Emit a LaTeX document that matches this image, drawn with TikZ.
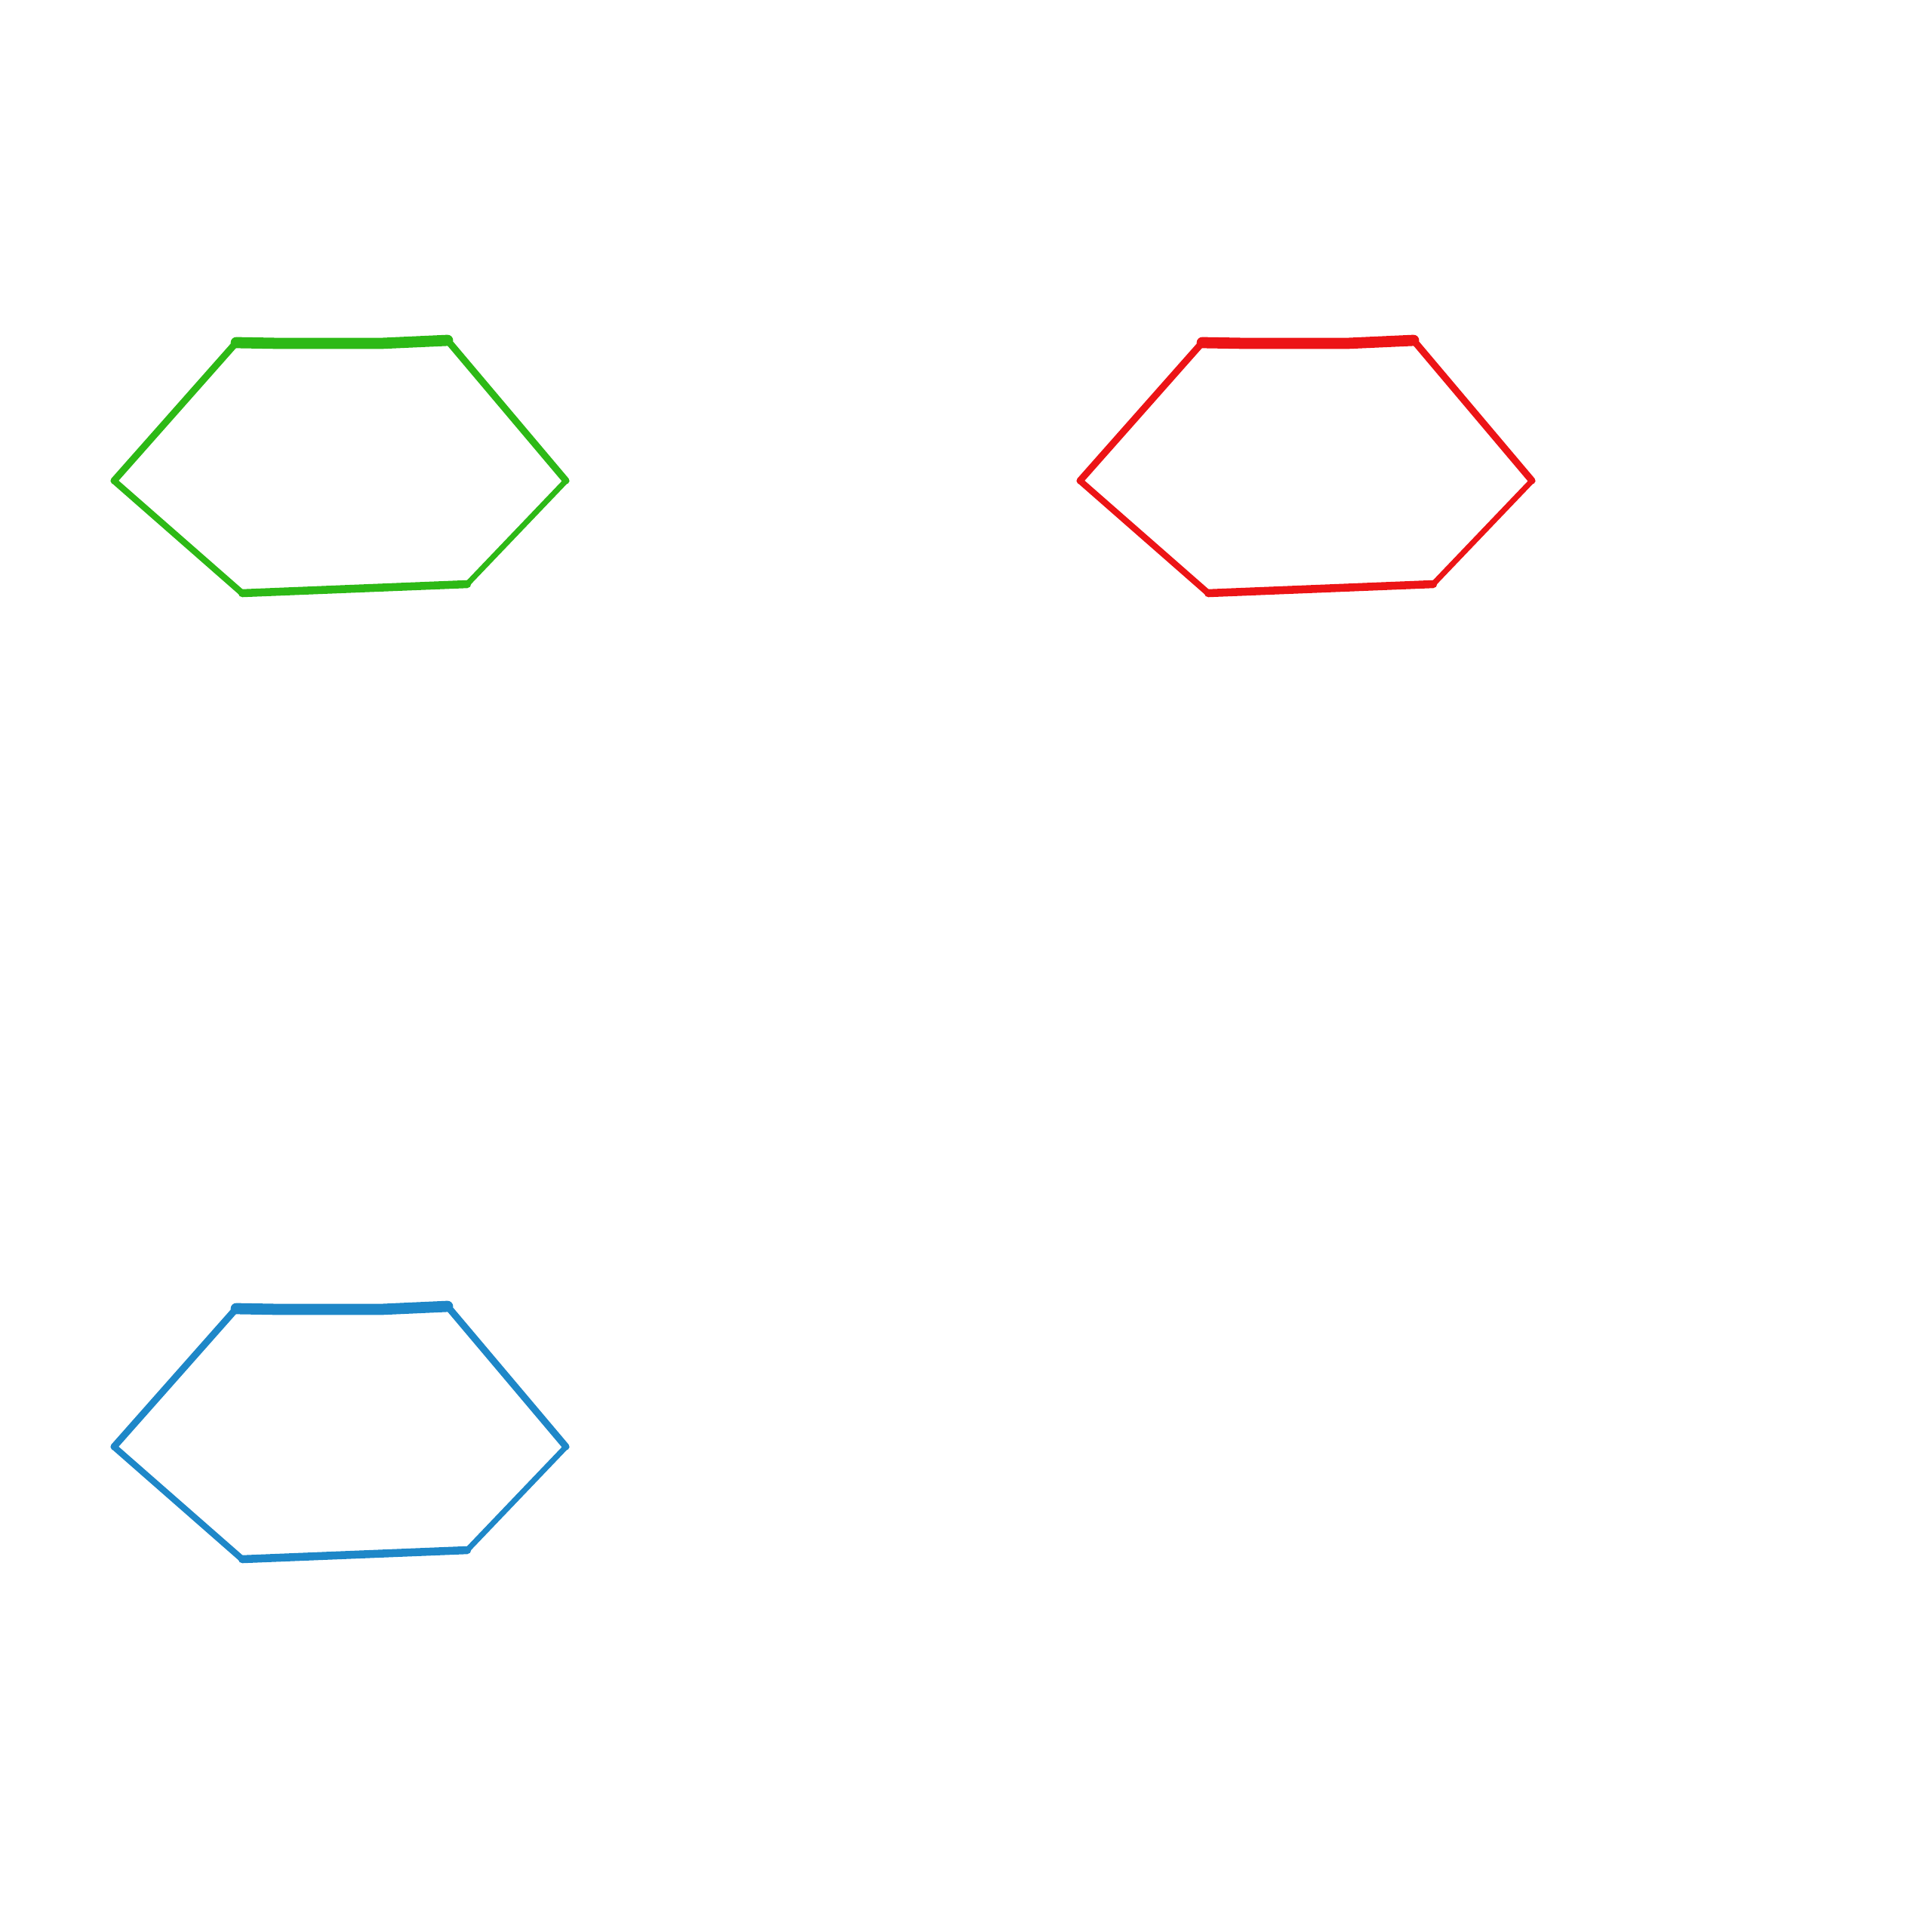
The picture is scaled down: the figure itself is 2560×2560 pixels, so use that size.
\documentclass[tikz,border=0pt]{standalone}
\usepackage{tikz}
\usetikzlibrary{calc}
\definecolor{hexgreen}{RGB}{45,185,22}
\definecolor{hexred}{RGB}{236,20,22}
\definecolor{hexblue}{RGB}{30,135,200}
\tikzset{
	hexline/.style={line cap=round, line join=round},
}
\begin{document}
\begin{tikzpicture}[x=0.01cm, y=-0.01cm]
		\useasboundingbox (0,0) rectangle (2560,2560);
		
		% three hand-drawn hexagons, one per cell
		\foreach \dx/\dy/\col in {0/0/hexgreen, 1280/0/hexred, 0/1280/hexblue} {
			\begin{scope}[shift={(\dx,\dy)}, hexline, draw=\col]
				\coordinate (tl) at (313,454);
				\coordinate (tr) at (593,451);
				\coordinate (r) at (750,637);
				\coordinate (br) at (619,774);
				\coordinate (bl) at (321,786);
				\coordinate (l) at (151,637);
				\draw[line width=4.2pt] (tl) -- (370,455) -- (505,455) -- (tr);
				\draw[line width=2.6pt] (tr) -- (r);
				\draw[line width=2.1pt] (r) -- (br);
				\draw[line width=3pt] (br) -- (bl);
				\draw[line width=2.4pt] (bl) -- (l);
				\draw[line width=2.6pt] (l) -- (tl);
			\end{scope}
		}
	\end{tikzpicture}
\end{document}
